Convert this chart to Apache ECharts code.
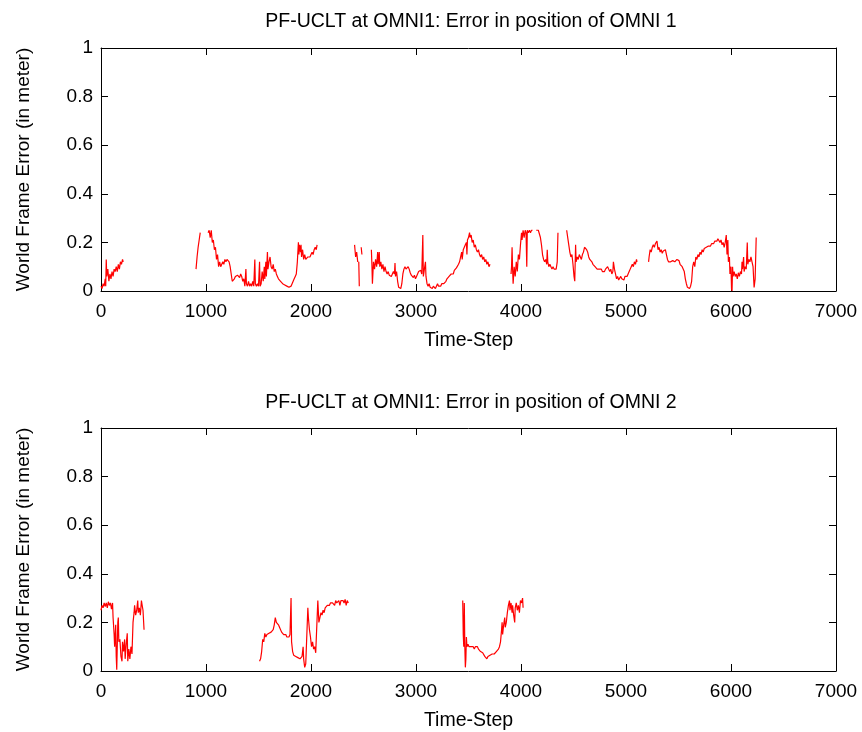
<!DOCTYPE html>
<html>
<head>
<meta charset="utf-8">
<script src="https://cdn.jsdelivr.net/npm/echarts@6/dist/echarts.min.js"></script>
<style>html,body{margin:0;padding:0;background:#fff}#c{width:862px;height:732px}</style>
</head>
<body>
<div id="c"></div>
<script>
var titles = ['PF-UCLT at OMNI1: Error in position of OMNI 1', 'PF-UCLT at OMNI1: Error in position of OMNI 2'];
var xTicks = [0, 1000, 2000, 3000, 4000, 5000, 6000, 7000];
var yTicks = [0, 0.2, 0.4, 0.6, 0.8, 1];

// OMNI 1 (null = gap in the trace)
var omni1Time = [0,10,20,30,40,45,50,55,65,75,85,95,105,115,125,135,145,155,165,175,185,195,205,212,500,
905,915,925,935,945,980,1020,1030,1040,1050,1060,1070,1080,1090,1100,1110,1120,1130,1140,1150,1160,1170,1180,1190,1200,1210,1220,1230,1240,1250,1260,1270,1280,1290,1300,1310,1320,1330,1340,1350,1360,1370,1380,1385,1395,1405,1415,1425,1435,1445,1455,1465,1470,1480,1490,1500,1510,1515,1525,1535,1545,1555,1560,1570,1575,1585,1590,1600,1610,1620,1630,1640,1650,1660,1670,1680,1690,1700,1710,1720,1730,1740,1750,1760,1770,1780,1790,1800,1810,1820,1830,1840,1850,1860,1870,1880,1885,1890,1900,1905,1910,1920,1930,1940,1950,1960,1970,1980,1990,2000,2010,2020,2030,2040,2050,2058,2200,
2415,2425,2435,2445,2450,2455,2460,2470,2478,2485,2500,2575,2580,2585,2595,2605,2615,2625,2635,2640,2650,2655,2665,2675,2685,2695,2705,2715,2725,2735,2745,2755,2765,2775,2785,2795,2800,2805,2815,2825,2835,2845,2855,2865,2875,2885,2895,2905,2915,2925,2935,2945,2955,2965,2975,2985,2995,3005,3015,3025,3035,3045,3055,3065,3070,3080,3090,3095,3105,3115,3125,3135,3145,3155,3165,3175,3185,3195,3205,3215,3225,3235,3245,3255,3265,3275,3285,3295,3305,3315,3325,3335,3345,3355,3365,3375,3385,3395,3405,3415,3425,3435,3440,3450,3460,3470,3480,3485,3490,3500,3510,3515,3525,3535,3545,3555,3565,3575,3585,3595,3605,3615,3625,3635,3645,3655,3665,3675,3685,3695,3705,3800,
3905,3910,3915,3920,3925,3935,3945,3955,3965,3975,3985,3995,4005,4010,4020,4030,4040,4048,4055,4060,4070,4080,4090,4100,4110,4130,4145,4165,4175,4185,4195,4205,4215,4225,4235,4245,4250,4255,4265,4275,4285,4295,4305,4315,4325,4335,4345,4352,4390,4435,4445,4455,4465,4475,4485,4495,4505,4512,4520,4525,4535,4545,4555,4565,4575,4585,4595,4605,4615,4625,4635,4645,4655,4665,4675,4685,4695,4705,4715,4725,4735,4745,4755,4765,4775,4785,4795,4805,4815,4825,4835,4845,4855,4865,4875,4880,4890,4900,4910,4920,4930,4940,4950,4960,4970,4980,4990,5000,5010,5020,5030,5040,5050,5060,5070,5080,5090,5100,5105,5150,
5215,5220,5230,5240,5250,5260,5270,5280,5290,5295,5305,5315,5325,5335,5345,5355,5365,5375,5385,5395,5405,5415,5425,5435,5445,5455,5465,5475,5485,5495,5505,5515,5525,5535,5545,5555,5565,5575,5585,5595,5605,5615,5625,5635,5645,5655,5665,5675,5685,5695,5705,5715,5725,5735,5745,5755,5765,5775,5785,5795,5805,5815,5825,5835,5845,5855,5865,5875,5885,5895,5905,5915,5925,5935,5945,5955,5962,5970,5975,5985,5990,6000,6005,6010,6015,6020,6030,6040,6050,6060,6070,6080,6090,6100,6105,6110,6120,6125,6135,6145,6155,6160,6170,6180,6190,6200,6210,6220,6230,6240];
var omni1Error = [0.02,0.01,0.03,0.02,0.05,0.02,0.13,0.06,0.09,0.04,0.07,0.05,0.08,0.06,0.09,0.08,0.1,0.08,0.11,0.09,0.12,0.11,0.13,0.12,null,
0.09,0.14,0.18,0.21,0.24,null,0.24,0.25,0.22,0.25,0.2,0.21,0.17,0.18,0.13,0.15,0.1,0.12,0.1,0.11,0.12,0.11,0.13,0.12,0.13,0.135,0.12,0.1,0.07,0.04,0.04,0.05,0.06,0.055,0.065,0.06,0.055,0.07,0.06,0.04,0.05,0.02,0.09,0.03,0.02,0.04,0.02,0.03,0.02,0.04,0.02,0.13,0.03,0.02,0.03,0.02,0.12,0.02,0.03,0.08,0.04,0.1,0.05,0.12,0.06,0.16,0.09,0.12,0.14,0.1,0.09,0.11,0.08,0.09,0.07,0.06,0.05,0.045,0.04,0.035,0.03,0.035,0.025,0.03,0.02,0.025,0.015,0.01,0.02,0.03,0.04,0.05,0.06,0.07,0.12,0.2,0.15,0.19,0.16,0.19,0.14,0.17,0.13,0.15,0.13,0.135,0.14,0.145,0.14,0.15,0.16,0.15,0.17,0.18,0.17,0.19,null,
0.19,0.14,0.16,0.12,null,0.12,0.02,null,0.18,0.15,null,0.17,0.11,0.03,0.12,0.09,0.13,0.1,0.16,0.11,0.16,0.1,0.12,0.09,0.11,0.08,0.1,0.08,0.07,0.08,0.065,0.07,0.06,0.065,0.08,0.07,0.115,0.06,0.08,0.04,0.015,0.02,0.01,0.03,0.07,0.09,0.1,0.09,0.095,0.1,0.09,0.075,0.065,0.06,0.055,0.065,0.05,0.06,0.07,0.08,0.075,0.085,0.07,0.23,0.06,0.09,0.12,0.06,0.03,0.02,0.03,0.015,0.02,0.01,0.02,0.025,0.01,0.015,0.03,0.02,0.025,0.02,0.03,0.025,0.03,0.035,0.04,0.05,0.055,0.06,0.065,0.07,0.075,0.07,0.085,0.09,0.095,0.1,0.11,0.12,0.14,0.16,0.13,0.17,0.18,0.19,0.2,0.15,0.21,0.22,0.24,0.22,0.23,0.2,0.21,0.18,0.19,0.17,0.16,0.17,0.15,0.14,0.15,0.13,0.14,0.12,0.13,0.11,0.12,0.1,0.11,null,
0.07,0.1,0.18,0.09,0.03,0.1,0.06,0.12,0.08,0.15,0.13,0.19,0.24,0.21,0.25,0.22,0.25,0.24,0.1,0.25,0.24,0.25,0.24,0.25,0.25,null,0.25,0.25,0.245,0.22,0.19,0.15,0.13,0.12,0.13,0.11,0.17,0.12,0.1,0.11,0.1,0.09,0.1,0.09,0.095,0.09,0.12,0.24,null,0.25,0.22,0.19,0.16,0.14,0.15,0.11,0.06,0.04,0.19,0.12,0.14,0.13,0.15,0.14,0.13,0.15,0.16,0.18,0.175,0.17,0.16,0.14,0.13,0.135,0.12,0.11,0.105,0.1,0.095,0.09,0.085,0.09,0.085,0.09,0.08,0.085,0.08,0.09,0.085,0.1,0.09,0.08,0.09,0.07,0.08,0.12,0.09,0.07,0.05,0.06,0.045,0.05,0.06,0.05,0.055,0.045,0.06,0.055,0.06,0.07,0.08,0.09,0.1,0.11,0.1,0.12,0.11,0.13,0.12,null,
0.12,0.14,0.17,0.16,0.18,0.19,0.18,0.195,0.2,0.205,0.17,0.18,0.16,0.17,0.155,0.165,0.16,0.17,0.15,0.13,0.12,0.125,0.12,0.12,0.125,0.12,0.12,0.125,0.13,0.135,0.125,0.11,0.105,0.1,0.1,0.08,0.05,0.03,0.015,0.01,0.01,0.02,0.04,0.1,0.12,0.1,0.14,0.13,0.15,0.14,0.16,0.15,0.17,0.16,0.175,0.17,0.18,0.175,0.185,0.19,0.185,0.195,0.2,0.195,0.205,0.21,0.205,0.215,0.22,0.2,0.21,0.19,0.2,0.18,0.2,0.23,0.15,0.21,0.12,0.14,0.07,0.1,0.01,0.0,0.1,0.06,0.08,0.06,0.07,0.05,0.075,0.06,0.08,0.07,0.12,0.09,0.14,0.08,0.1,0.09,0.2,0.11,0.13,0.12,0.14,0.12,0.1,0.015,0.05,0.22];

// OMNI 2
var omni2Time = [0,10,20,30,40,50,60,70,80,90,100,110,115,125,130,140,145,150,160,165,170,180,190,200,205,215,225,230,240,250,255,265,275,285,295,305,315,320,330,340,350,355,365,375,385,392,400,410,800,
1510,1520,1530,1540,1550,1560,1570,1580,1590,1600,1610,1620,1630,1640,1650,1660,1670,1680,1690,1700,1710,1720,1730,1740,1750,1760,1770,1780,1790,1800,1810,1815,1825,1835,1845,1855,1865,1875,1885,1895,1905,1915,1925,1930,1940,1950,1960,1970,1975,1985,1995,2005,2015,2025,2035,2045,2055,2065,2075,2085,2095,2105,2115,2125,2135,2145,2155,2165,2175,2185,2195,2205,2215,2225,2235,2245,2255,2265,2275,2285,2295,2305,2315,2325,2335,2345,2355,3000,
3445,3450,3455,3460,3465,3470,3475,3480,3485,3495,3505,3515,3525,3535,3545,3555,3565,3575,3585,3595,3605,3615,3625,3635,3645,3655,3665,3675,3685,3695,3705,3715,3725,3735,3745,3755,3765,3775,3785,3795,3805,3815,3820,3825,3835,3845,3850,3860,3870,3880,3890,3895,3905,3915,3920,3930,3940,3945,3955,3965,3975,3985,3995,4005,4015,4020];
var omni2Error = [0.25,0.27,0.26,0.28,0.265,0.28,0.26,0.285,0.27,0.28,0.255,0.28,0.22,0.15,0.1,0.19,0.06,0.005,0.2,0.22,0.12,0.13,0.06,0.04,0.12,0.08,0.13,0.05,0.11,0.155,0.04,0.09,0.05,0.1,0.07,0.2,0.24,0.27,0.23,0.25,0.29,0.24,0.26,0.23,0.29,0.27,0.25,0.17,null,
0.04,0.05,0.08,0.13,0.12,0.155,0.14,0.15,0.145,0.155,0.15,0.16,0.155,0.17,0.19,0.22,0.2,0.195,0.19,0.18,0.175,0.16,0.155,0.15,0.145,0.15,0.14,0.145,0.14,0.15,0.3,0.12,0.08,0.065,0.07,0.06,0.065,0.055,0.06,0.05,0.055,0.06,0.1,0.05,0.015,0.03,0.03,0.26,0.22,0.17,0.14,0.1,0.12,0.09,0.1,0.075,0.08,0.29,0.2,0.22,0.24,0.23,0.25,0.24,0.26,0.265,0.27,0.275,0.27,0.28,0.275,0.28,0.285,0.27,0.29,0.28,0.285,0.29,0.27,0.29,0.285,0.29,0.28,0.295,0.27,0.29,0.28,null,
0.29,0.15,0.1,0.28,0.1,0.015,0.05,0.14,0.1,0.11,0.1,0.105,0.1,0.095,0.1,0.09,0.1,0.095,0.1,0.09,0.085,0.08,0.085,0.075,0.07,0.06,0.055,0.05,0.06,0.055,0.065,0.06,0.07,0.065,0.07,0.065,0.08,0.085,0.09,0.1,0.12,0.17,0.2,0.15,0.19,0.22,0.18,0.2,0.24,0.27,0.29,0.25,0.28,0.24,0.27,0.23,0.2,0.26,0.28,0.25,0.27,0.24,0.29,0.28,0.3,0.26];

function pairs(t, v) { return t.map(function (x, i) { return [x, v[i] === null ? '-' : v[i]]; }); }

var FONT = 'Liberation Sans';
var black = '#000';
function xAx(grid, pos, labels) {
  return {
    type: 'value', gridIndex: grid, position: pos, min: xTicks[0], max: xTicks[xTicks.length - 1], interval: 1000,
    axisLine: { show: true, onZero: false, lineStyle: { color: black, width: 1 } },
    axisTick: { show: true, inside: true, length: 7, lineStyle: { color: black, width: 1 } },
    axisLabel: { show: labels, color: black, fontSize: 19, fontFamily: FONT, margin: 11, formatter: function (v) { return String(v); } },
    splitLine: { show: false },
    name: labels ? 'Time-Step' : '', nameLocation: 'middle', nameGap: 40,
    nameTextStyle: { color: black, fontSize: 19.5, fontFamily: FONT }
  };
}
function yAx(grid, pos, labels) {
  return {
    type: 'value', gridIndex: grid, position: pos, min: yTicks[0], max: yTicks[yTicks.length - 1], interval: 0.2,
    axisLine: { show: true, onZero: false, lineStyle: { color: black, width: 1 } },
    axisTick: { show: true, inside: true, length: 7, lineStyle: { color: black, width: 1 } },
    axisLabel: { show: labels, color: black, fontSize: 19, fontFamily: FONT, margin: 8, formatter: function (v) { return String(v); } },
    splitLine: { show: false },
    name: labels ? 'World Frame Error (in meter)' : '', nameLocation: 'middle', nameGap: 68,
    nameTextStyle: { color: black, fontSize: 19, fontFamily: FONT }
  };
}

var chart = echarts.init(document.getElementById('c'), null, { renderer: 'canvas' });
chart.setOption({
  backgroundColor: '#fff',
  animation: false,
  title: [
    { text: titles[0], left: 466, top: 7, textAlign: 'center', textStyle: { color: black, fontSize: 19.5, fontWeight: 'normal', fontFamily: FONT } },
    { text: titles[1], left: 466, top: 388, textAlign: 'center', textStyle: { color: black, fontSize: 19.5, fontWeight: 'normal', fontFamily: FONT } }
  ],
  grid: [
    { left: 101, top: 48, width: 735, height: 243 },
    { left: 101, top: 428, width: 735, height: 243 }
  ],
  xAxis: [xAx(0, 'bottom', true), xAx(0, 'top', false), xAx(1, 'bottom', true), xAx(1, 'top', false)],
  yAxis: [yAx(0, 'left', true), yAx(0, 'right', false), yAx(1, 'left', true), yAx(1, 'right', false)],
  series: [
    { type: 'line', xAxisIndex: 0, yAxisIndex: 0, data: pairs(omni1Time, omni1Error), showSymbol: false, symbol: 'none', connectNulls: false, lineStyle: { color: '#ff0000', width: 1.2 } },
    { type: 'line', xAxisIndex: 2, yAxisIndex: 2, data: pairs(omni2Time, omni2Error), showSymbol: false, symbol: 'none', connectNulls: false, lineStyle: { color: '#ff0000', width: 1.2 } }
  ]
});
</script>
</body>
</html>
